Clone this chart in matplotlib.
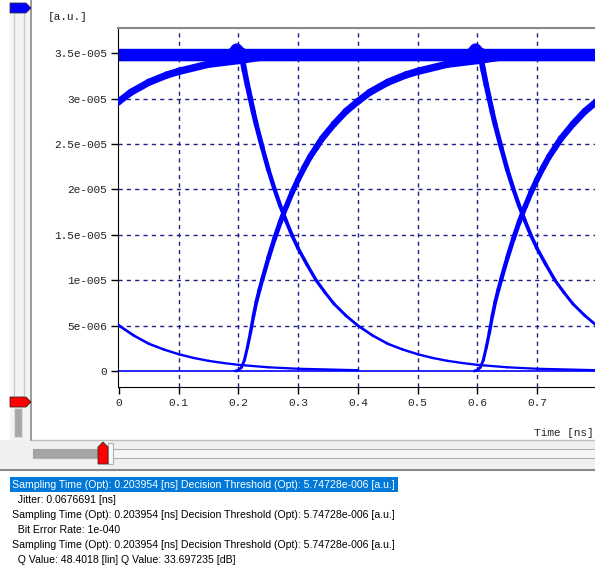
import numpy as np
import matplotlib
matplotlib.use('Agg')
import matplotlib.pyplot as plt
from matplotlib.collections import LineCollection
from matplotlib.patches import Rectangle, Polygon

# eye diagram, time in ns, amplitude in units of 1e-5 a.u.
# one-bit shapes, time measured from the bit edge
rise_t = [-0.005, 0, 0.005, 0.01, 0.015, 0.02, 0.025, 0.03, 0.035, 0.04, 0.05,
          0.06, 0.07, 0.08, 0.09, 0.10, 0.11, 0.12, 0.13, 0.14, 0.16, 0.18,
          0.20, 0.22, 0.25, 0.28, 0.30, 0.35, 0.40, 0.44]
rise_y = [0, 0.01, 0.04, 0.12, 0.26, 0.42, 0.60, 0.76, 0.89, 1.01, 1.24,
          1.45, 1.64, 1.81, 1.97, 2.11, 2.24, 2.36, 2.46, 2.56, 2.72, 2.86,
          2.97, 3.07, 3.18, 3.26, 3.30, 3.38, 3.42, 3.46]
fall_t = [0, 0.005, 0.01, 0.015, 0.02, 0.025, 0.03, 0.04, 0.05, 0.06, 0.07,
          0.08, 0.09, 0.10, 0.115, 0.13, 0.145, 0.16, 0.18, 0.20, 0.225,
          0.25, 0.275, 0.30, 0.325, 0.35, 0.375, 0.40, 0.45, 0.50, 0.60]
fall_y = [3.52, 3.48, 3.31, 3.15, 3.00, 2.85, 2.71, 2.46, 2.22, 2.01, 1.82,
          1.65, 1.49, 1.35, 1.17, 1.00, 0.865, 0.74, 0.61, 0.50, 0.39,
          0.30, 0.237, 0.185, 0.144, 0.112, 0.088, 0.068, 0.041, 0.025, 0.009]
bit_edges = [-0.2, 0.2, 0.6]

# steady "1" level with small overshoot at the edges, and steady "0" level
high_t = [0, 0.19, 0.197, 0.201, 0.208, 0.59, 0.597, 0.601, 0.608, 0.8]
high_y = [3.48, 3.48, 3.54, 3.51, 3.48, 3.48, 3.54, 3.51, 3.48, 3.48]
zero_t = [0, 0.8]
zero_y = [0, 0]

x_ticks = [0, 0.1, 0.2, 0.3, 0.4, 0.5, 0.6, 0.7]
x_labels = ['0', '0.1', '0.2', '0.3', '0.4', '0.5', '0.6', '0.7']
y_ticks = [0, 0.5, 1.0, 1.5, 2.0, 2.5, 3.0, 3.5]
y_labels = ['0', '5e-006', '1e-005', '1.5e-005', '2e-005', '2.5e-005', '3e-005', '3.5e-005']

info_lines = [
    'Sampling Time (Opt): 0.203954 [ns] Decision Threshold (Opt): 5.74728e-006 [a.u.]',
    '  Jitter: 0.0676691 [ns]',
    'Sampling Time (Opt): 0.203954 [ns] Decision Threshold (Opt): 5.74728e-006 [a.u.]',
    '  Bit Error Rate: 1e-040',
    'Sampling Time (Opt): 0.203954 [ns] Decision Threshold (Opt): 5.74728e-006 [a.u.]',
    '  Q Value: 48.4018 [lin] Q Value: 33.697235 [dB]',
]

W, H = 595, 569
BLUE = '#0000ff'
MONO = 'Liberation Mono'


def fx(x):
    return x / W


def fy(y):
    return 1 - y / H


fig = plt.figure(figsize=(W / 100, H / 100), dpi=100)
fig.patch.set_facecolor('white')


def rect(x0, y0, x1, y1, fc, ec='none', lw=0, z=1):
    fig.add_artist(Rectangle((fx(x0), fy(y1)), (x1 - x0) / W, (y1 - y0) / H,
                             transform=fig.transFigure, facecolor=fc,
                             edgecolor=ec, linewidth=lw, zorder=z))


def hline(x0, x1, y, c, lw=1, z=2):
    fig.add_artist(plt.Line2D([fx(x0), fx(x1)], [fy(y), fy(y)],
                              transform=fig.transFigure, color=c, lw=lw, zorder=z))


def vline(x, y0, y1, c, lw=1, z=2):
    fig.add_artist(plt.Line2D([fx(x), fx(x)], [fy(y0), fy(y1)],
                              transform=fig.transFigure, color=c, lw=lw, zorder=z))


def poly(pts, fc, ec='none', z=3):
    fig.add_artist(Polygon([(fx(a), fy(b)) for a, b in pts], closed=True,
                           transform=fig.transFigure, facecolor=fc,
                           edgecolor=ec, linewidth=0.6, zorder=z))


ax = fig.add_axes([118 / W, 1 - 387 / H, (W - 118) / W + 0.003, (387 - 28) / H])
ax.set_xlim(-0.0017, 0.8)
ax.set_ylim(-0.176, 3.778)


def trace(t, y, lw0, lw1):
    t = np.asarray(t, float)
    y = np.asarray(y, float)
    pts = np.column_stack([t, y])
    segs = np.stack([pts[:-1], pts[1:]], axis=1)
    ym = (y[:-1] + y[1:]) / 2
    lc = LineCollection(segs, colors=BLUE, linewidths=lw0 + (lw1 - lw0) * ym / 3.5,
                        capstyle='round', joinstyle='round', zorder=3)
    ax.add_collection(lc)


# dashed grid (no line on the axes themselves)
for x in x_ticks[1:]:
    ax.axvline(x, color='#20208a', linestyle=(0, (3, 3)), linewidth=1, zorder=1)
for y in y_ticks[1:]:
    ax.axhline(y, color='#20208a', linestyle=(0, (3, 3)), linewidth=1, zorder=1)

ax.plot(zero_t, zero_y, color=BLUE, lw=1.2, zorder=3, solid_capstyle='butt')
ax.plot(high_t, high_y, color=BLUE, lw=9, zorder=3, solid_capstyle='butt',
        solid_joinstyle='round')
for e in bit_edges:
    trace(np.add(rise_t, e), rise_y, 2.0, 5.5)
    trace(np.add(fall_t, e), fall_y, 1.6, 4.2)

ax.set_xticks(x_ticks)
ax.set_xticklabels(x_labels, fontfamily=MONO, fontsize=8, color='#222222')
ax.set_yticks(y_ticks)
ax.set_yticklabels(y_labels, fontfamily=MONO, fontsize=8, color='#222222')
ax.tick_params(direction='out', length=5, width=1, color='black', pad=3)
ax.spines['right'].set_visible(False)
ax.spines['top'].set_color('#888888')
ax.spines['top'].set_linewidth(1.5)
ax.spines['left'].set_color('black')
ax.spines['bottom'].set_color('black')

fig.text(fx(48), fy(17), '[a.u.]', fontfamily=MONO, fontsize=8, color='#222222',
         va='center', ha='left')
fig.text(fx(594), fy(433), 'Time [ns]', fontfamily=MONO, fontsize=8,
         color='#222222', va='center', ha='right')

# left vertical slider
rect(10, 8, 30, 440, '#f4f4f4')
vline(14, 14, 395, '#c8c8c8')
vline(24, 14, 395, '#c8c8c8')
vline(30.5, 0, 440, '#8a8a8a', lw=1.2)
rect(14, 408, 22, 437, '#a8a8a8', ec='#e0e0e0', lw=0.8)
poly([(10, 3), (26, 3), (31, 8), (26, 13), (10, 13)], BLUE, ec='#333355')
poly([(10, 397), (26, 397), (31, 402), (26, 407), (10, 407)], '#ff0000', ec='#442222')

# bottom slider area
rect(0, 440, W, 470, '#f0f0f0')
hline(32, W, 440, '#c0c0c0')
rect(33, 449, W, 458, '#f6f6f6', ec='#b0b0b0', lw=0.8)
rect(33, 449, 100, 458, '#a4a4a4', z=2)
rect(108, 443, 113, 464, '#fafafa', ec='#b0b0b0', lw=0.8, z=3)
poly([(98, 464), (98, 447), (103, 442), (108, 447), (108, 464)], '#ff0000', ec='#333333')
hline(0, W, 470, '#8a8a8a', lw=1.5)

# result list
rect(0, 472, W, H, 'white', z=1)
rect(10, 477, 398, 492, '#0078d7', z=2)
ys = [484.5, 500, 515, 530, 545, 560]
txts = []
for i, (s, y) in enumerate(zip(info_lines, ys)):
    txts.append(fig.text(fx(12), fy(y), s, fontfamily='Liberation Sans', fontsize=7.5,
                         color='white' if i == 0 else 'black', va='center',
                         ha='left', zorder=4))
# fit the font size so the first line spans the same width as in the list box
r = fig.canvas.get_renderer()
wpx = txts[0].get_window_extent(r).width
fs = 7.5 * 384 / wpx
for t in txts:
    t.set_fontsize(fs)

fig.savefig('out.png', dpi=100)
